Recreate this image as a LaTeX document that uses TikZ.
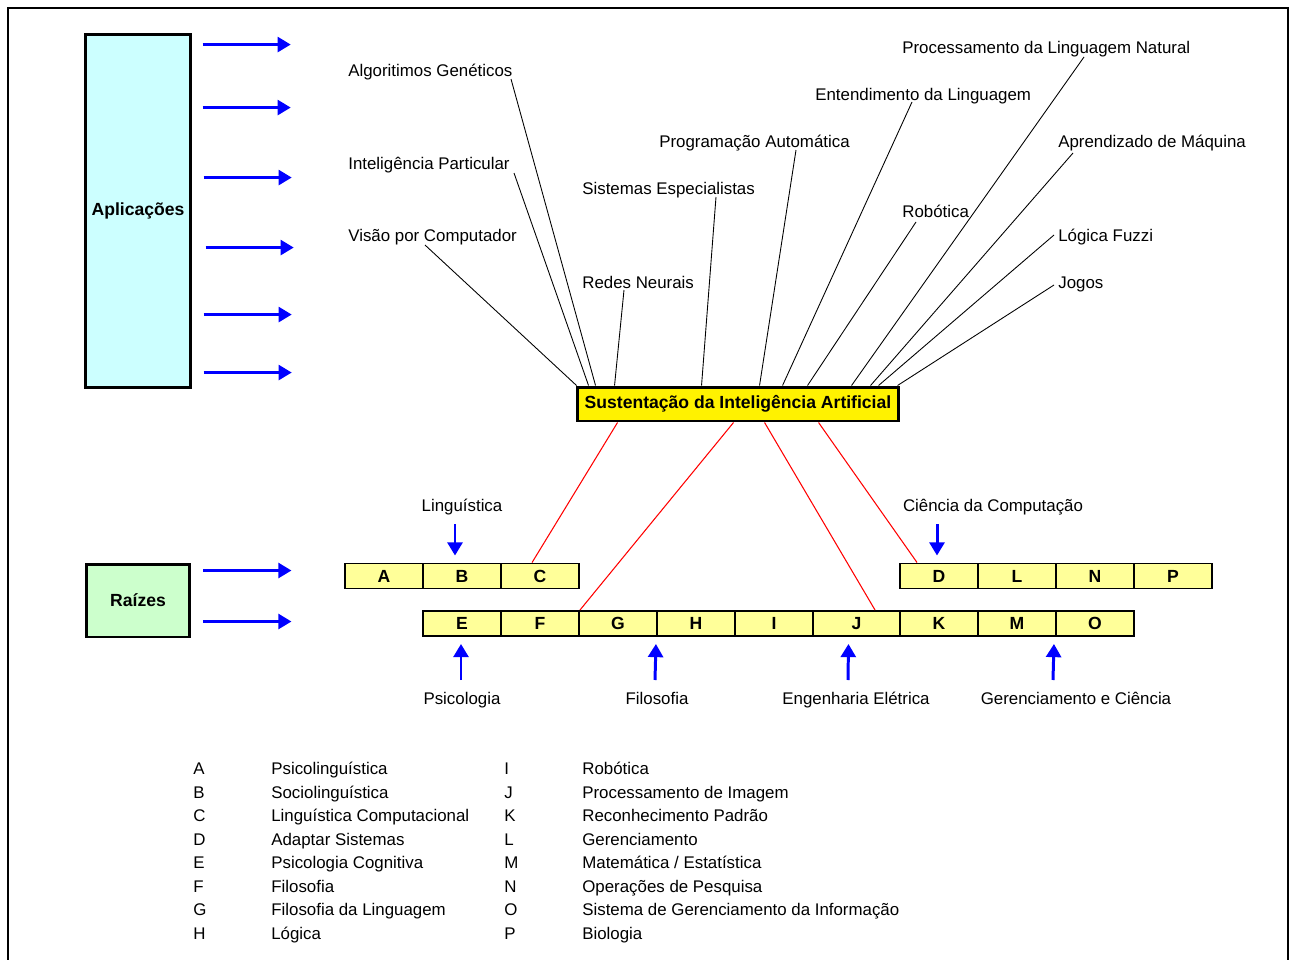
\documentclass[tikz,border=0pt]{standalone}
\usepackage{fontspec}
\setmainfont{Liberation Sans}
\usetikzlibrary{calc,arrows.meta}
\definecolor{aplcyan}{HTML}{CCFFFF}
\definecolor{raizgreen}{HTML}{CCFFCC}
\definecolor{cellyellow}{HTML}{FFFF99}
\tikzset{
  caixa/.style={draw, line width=1.7pt, font=\bfseries},
  cell/.style={draw, line width=1.1pt, fill=cellyellow, minimum width=1.56cm, minimum height=0.5cm, inner sep=0pt, font=\bfseries},
  seta/.style={draw=blue, line width=1.7pt, -{Triangle[length=7.5pt,width=8.5pt]}},
  fio/.style={draw, line width=0.5pt},
  raiz/.style={draw=red, line width=0.6pt},
  txt/.style={inner sep=0pt, anchor=base west},
}
\begin{document}
\begin{tikzpicture}[x=0.02cm, y=-0.02cm, font=\fontsize{9.6}{11}\selectfont]
\useasboundingbox (0,0) rectangle (1292,960);
\draw[line width=1.1pt] (8,960) -- (8,8) -- (1288,8) -- (1288,960);

% caixas principais
\node[caixa, fill=aplcyan, minimum width=2.08cm, minimum height=7.08cm] (apl) at (138,211) {Aplicações};
\node[caixa, fill=raizgreen, minimum width=2.08cm, minimum height=1.46cm] (rz) at (138,600.5) {Raízes};
\node[caixa, fill=yellow, minimum width=6.44cm, minimum height=0.68cm] (sia) at (738,404) {Sustentação da Inteligência Artificial};

\path[seta] ($(apl.north east)+(11,12)$) -- ++(88,0);
\path[seta] ($(apl.north east)+(11,75)$) -- ++(88,0);
\path[seta] ($(apl.north east)+(12,145)$) -- ++(88,0);
\path[seta] ($(apl.north east)+(14,215)$) -- ++(88,0);
\path[seta] ($(apl.north east)+(12,282)$) -- ++(88,0);
\path[seta] ($(apl.north east)+(12,340)$) -- ++(88,0);
\path[seta] ($(rz.north east)+(12,8)$) -- ++(88,0);
\path[seta] ($(rz.north east)+(12,59)$) -- ++(88,0);

% aplicacoes
\node[txt] (alg) at (348,76) {Algoritimos Genéticos};
\node[txt] (ipa) at (348,169) {Inteligência Particular};
\node[txt] (vis) at (348,241) {Visão por Computador};
\node[txt] (sis) at (582,194) {Sistemas Especialistas};
\node[txt] (rn) at (582,288) {Redes Neurais};
\node[txt] (pro) at (659,147) {Programação Automática};
\node[txt] (ent) at (815,100) {Entendimento da Linguagem};
\node[txt] (pln) at (902,53) {Processamento da Linguagem Natural};
\node[txt] (rob) at (902,217) {Robótica};
\node[txt] (apr) at (1058,147) {Aprendizado de Máquina};
\node[txt] (lgf) at (1058,241) {Lógica Fuzzi};
\node[txt] (jog) at (1058,288) {Jogos};

\path[fio] ($(vis.base west)+(77,4)$) -- ($(sia.north west)+(1,0)$);
\path[fio] ($(ipa.base west)+(166,4)$) -- ($(sia.north west)+(13,0)$);
\path[fio] ($(alg.base west)+(163,3)$) -- ($(sia.north west)+(20,0)$);
\path[fio] ($(rn.base west)+(42,2)$) -- ($(sia.north west)+(39,0)$);
\path[fio] ($(sis.base west)+(134,3)$) -- ($(sia.north west)+(126,0)$);
\path[fio] ($(pro.base west)+(137,3)$) -- ($(sia.north west)+(184,0)$);
\path[fio] ($(ent.base west)+(97,2)$) -- ($(sia.north west)+(207,0)$);
\path[fio] ($(rob.base west)+(14,5)$) -- ($(sia.north west)+(232,0)$);
\path[fio] ($(pln.base west)+(182,4)$) -- ($(sia.north west)+(276,0)$);
\path[fio] ($(apr.base west)+(15,6)$) -- ($(sia.north west)+(295,0)$);
\path[fio] ($(lgf.base west)+(-4,-6)$) -- ($(sia.north west)+(303,0)$);
\path[fio] ($(jog.base west)+(-4,-3)$) -- ($(sia.north west)+(322,0)$);

% raizes
\node[cell] (A) at (384,576) {A};
\node[cell] (B) at (462,576) {B};
\node[cell] (C) at (540,576) {C};
\node[cell] (D) at (939,576) {D};
\node[cell] (L) at (1017,576) {L};
\node[cell] (N) at (1095,576) {N};
\node[cell] (P) at (1173,576) {P};
\node[cell] (E) at (462,623.5) {E};
\node[cell] (F) at (540,623.5) {F};
\node[cell] (G) at (618,623.5) {G};
\node[cell] (H) at (696,623.5) {H};
\node[cell] (I) at (774,623.5) {I};
\node[cell, minimum width=1.74cm] (J) at (856.5,623.5) {J};
\node[cell] (K) at (939,623.5) {K};
\node[cell] (M) at (1017,623.5) {M};
\node[cell] (O) at (1095,623.5) {O};

\path[raiz] ($(sia.south west)+(42,0)$) -- ($(C.north west)+(32,0)$);
\path[raiz] ($(sia.south west)+(158,0)$) -- (F.north east);
\path[raiz] ($(sia.south west)+(189,0)$) -- ($(J.north west)+(63,0)$);
\path[raiz] ($(sia.south west)+(243,0)$) -- ($(D.north west)+(18,0)$);

\node[txt, anchor=base] (lin) at (462,511) {Linguística};
\node[txt, anchor=base] (cc) at (993,511) {Ciência da Computação};
\node[txt, anchor=base] (psi) at (462,704) {Psicologia};
\node[txt, anchor=base] (fil) at (657,704) {Filosofia};
\node[txt, anchor=base] (eng) at (856,704) {Engenharia Elétrica};
\node[txt, anchor=base] (ger) at (1076,704) {Gerenciamento e Ciência};

\path[seta] ($(lin.base)+(-7,13)$) -- ($(B.north)+(-7,-7)$);
\path[seta] ($(cc.base)+(-56,13)$) -- ($(D.north)+(-2,-7)$);
\path[seta] ($(psi.base)+(-1,-24)$) -- ($(E.south)+(-1,7)$);
\path[seta] ($(fil.base)+(-2,-24)$) -- ($(G.south east)+(-2,7)$);
\path[seta] ($(eng.base)+(-8,-24)$) -- ($(J.south)+(-8,7)$);
\path[seta] ($(ger.base)+(-23,-24)$) -- ($(M.south east)+(-3,7)$);

% legenda
\node[txt, align=left, font=\fontsize{9.6}{13.37}\selectfont] (leg1) at (193,939) {A\\B\\C\\D\\E\\F\\G\\H};
\node[txt, align=left, font=\fontsize{9.6}{13.37}\selectfont] (leg2) at (271,939) {Psicolinguística\\Sociolinguística\\Linguística Computacional\\Adaptar Sistemas\\Psicologia Cognitiva\\Filosofia\\Filosofia da Linguagem\\Lógica};
\node[txt, align=left, font=\fontsize{9.6}{13.37}\selectfont] (leg3) at (504,939) {I\\J\\K\\L\\M\\N\\O\\P};
\node[txt, align=left, font=\fontsize{9.6}{13.37}\selectfont] (leg4) at (582,939) {Robótica\\Processamento de Imagem\\Reconhecimento Padrão\\Gerenciamento\\Matemática / Estatística\\Operações de Pesquisa\\Sistema de Gerenciamento da Informação\\Biologia};
\end{tikzpicture}
\end{document}
